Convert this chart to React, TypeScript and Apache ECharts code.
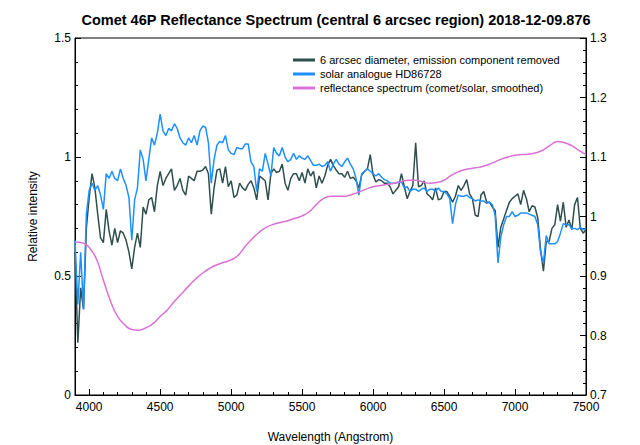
import React, { useEffect, useRef } from "react";
import * as echarts from "echarts";

// Wavelength grid for the two measured spectra (Angstrom)
const spectrumStart = 3900;
const spectrumStep = 20;

// Comet spectrum, 6 arcsec diameter, emission component removed (left axis)
const cometValues = [
  0.60, 0.22, 0.45, 0.36, 0.70, 0.83, 0.93, 0.87, 0.76, 0.66,
  0.64, 0.78, 0.69, 0.63, 0.70, 0.64, 0.69, 0.68, 0.65, 0.60,
  0.53, 0.62, 0.68, 0.62, 0.79, 0.76, 0.82, 0.83, 0.77, 0.88,
  0.94, 0.88, 0.91, 0.93, 0.95, 0.86, 0.88, 0.91, 0.86, 0.84,
  0.92, 0.91, 0.90, 0.94, 0.94,
  0.945, 0.96, 0.93, 0.76, 0.87, 0.945, 0.95, 0.89, 0.96, 0.875,
  0.90, 0.83, 0.84, 0.89, 0.87, 0.86, 0.885, 0.90, 0.87, 0.82,
  0.92, 0.91, 0.90, 0.82, 0.93, 0.95, 0.935, 0.94, 0.97, 0.89,
  0.86, 0.91, 0.93, 0.93, 0.90, 0.935, 0.89, 0.95, 0.92, 0.94,
  0.87, 0.92, 0.89, 0.92, 0.965,
  0.99, 0.965, 0.945, 0.93, 0.93, 0.915, 0.94, 0.91, 0.915, 0.90,
  0.87, 0.925, 0.94, 0.95, 1.01, 0.925, 0.895, 0.905, 0.90, 0.89,
  0.89, 0.875, 0.845, 0.86, 0.875, 0.93, 0.875, 0.825, 0.855, 0.88,
  1.06, 0.875, 0.88, 0.90, 0.845, 0.835, 0.82, 0.87, 0.82, 0.825,
  0.855, 0.855, 0.835, 0.81, 0.835, 0.88,
  0.86, 0.88, 0.905, 0.845, 0.825, 0.755, 0.75, 0.84, 0.855, 0.81,
  0.81, 0.79, 0.775, 0.62, 0.705, 0.74, 0.775, 0.81, 0.825, 0.835,
  0.845, 0.80, 0.86, 0.825, 0.77, 0.795, 0.79, 0.745, 0.61, 0.52,
  0.645, 0.645, 0.70, 0.715, 0.80, 0.73, 0.81, 0.705, 0.735, 0.695,
  0.80, 0.83, 0.70, 0.68, 0.695,
];

// Solar analogue HD86728 (left axis)
const solarValues = [
  0.65, 0.38, 0.60, 0.36, 0.76, 0.86, 0.89, 0.86, 0.88, 0.84,
  0.78, 0.93, 0.91, 0.94, 0.91, 0.90, 0.95, 0.91, 0.88, 0.83,
  0.65, 0.82, 0.87, 1.03, 0.99, 0.90, 0.99, 1.08, 1.05, 1.10,
  1.18, 1.11, 1.09, 1.12, 1.11, 1.14, 1.12, 1.08, 1.06, 1.05,
  1.08, 1.06, 1.09, 1.05, 1.11,
  1.13, 1.125, 1.06, 0.89, 0.99, 1.05, 1.065, 1.06, 1.09, 1.03,
  1.015, 1.01, 1.04, 1.035, 1.035, 1.055, 1.055, 0.98, 0.96, 0.855,
  0.95, 0.94, 1.015, 0.97, 0.92, 1.04, 1.015, 1.005, 1.04, 1.0,
  0.98, 0.99, 1.015, 0.99, 1.005, 0.995, 0.99, 1.005, 0.985, 0.965,
  0.965, 0.97, 0.96, 0.965, 0.98,
  0.94, 0.97, 0.99, 0.97, 0.96, 0.98, 0.995, 0.97, 0.95, 0.91,
  0.84, 0.93, 0.94, 0.95, 0.94, 0.93, 0.92, 0.93, 0.915, 0.905,
  0.90, 0.89, 0.89, 0.89, 0.895, 0.895, 0.87, 0.875, 0.855, 0.865,
  0.865, 0.855, 0.865, 0.87, 0.855, 0.865, 0.865, 0.855, 0.87, 0.855,
  0.855, 0.845, 0.825, 0.72, 0.80, 0.84,
  0.835, 0.835, 0.84, 0.83, 0.825, 0.815, 0.82, 0.815, 0.815, 0.805,
  0.81, 0.80, 0.755, 0.555, 0.665, 0.715, 0.75, 0.75, 0.77, 0.75,
  0.755, 0.765, 0.765, 0.765, 0.76, 0.755, 0.75, 0.715, 0.60, 0.555,
  0.67, 0.635, 0.635, 0.635, 0.645, 0.68, 0.72, 0.715, 0.715, 0.70,
  0.70, 0.695, 0.705, 0.695, 0.70,
];

// Reflectance spectrum (comet/solar, smoothed), right axis, every 50 Angstrom
const reflStart = 3900;
const reflStep = 50;
const reflValues = [
  0.957, 0.956, 0.948, 0.929, 0.893, 0.858, 0.832, 0.818, 0.810, 0.809,
  0.813, 0.820, 0.832, 0.843, 0.857, 0.870, 0.883, 0.895, 0.905, 0.913,
  0.919, 0.923, 0.927, 0.935, 0.950, 0.963, 0.974, 0.982, 0.987, 0.990,
  0.993, 0.997, 1.001, 1.008, 1.020, 1.030, 1.034, 1.034, 1.034, 1.037,
  1.041, 1.046, 1.050, 1.052, 1.054, 1.056, 1.059, 1.061, 1.061, 1.058,
  1.056, 1.057, 1.061, 1.069, 1.075, 1.079, 1.081, 1.083, 1.086, 1.091,
  1.096, 1.100, 1.103, 1.104, 1.105, 1.107, 1.112, 1.120, 1.126, 1.124,
  1.119, 1.111, 1.104,
];

const seriesNames = [
  "6 arcsec diameter, emission component removed",
  "solar analogue HD86728",
  "reflectance spectrum (comet/solar, smoothed)",
];
const titleText = "Comet 46P Reflectance Spectrum (central 6 arcsec region) 2018-12-09.876";
const xName = "Wavelength (Angstrom)";
const yName = "Relative intensity";

const FONT = "Liberation Sans";

export default function App() {
  const ref = useRef<HTMLDivElement>(null);
  useEffect(() => {
    if (!ref.current) return;
    const chart = echarts.init(ref.current, null, { renderer: "svg" });
    const comet = cometValues.map((v, i) => [spectrumStart + i * spectrumStep, v]);
    const solar = solarValues.map((v, i) => [spectrumStart + i * spectrumStep, v]);
    const refl = reflValues.map((v, i) => [reflStart + i * reflStep, v]);
    const axisLine = { show: true, lineStyle: { color: "#000", width: 1 } };
    const label = { color: "#000", fontSize: 12, fontFamily: FONT };
    chart.setOption({
      animation: false,
      backgroundColor: "#fff",
      title: {
        text: titleText,
        left: 331,
        top: 7,
        textAlign: "center",
        textStyle: { fontSize: 14.5, fontWeight: "bold", color: "#000", fontFamily: FONT },
      },
      legend: {
        data: seriesNames,
        orient: "vertical",
        left: 288,
        top: 49,
        icon: "rect",
        itemWidth: 22,
        itemHeight: 3,
        itemGap: 2,
        textStyle: { fontSize: 11, lineHeight: 12, color: "#000", fontFamily: FONT },
      },
      grid: {
        left: 75,
        right: 54,
        top: 38,
        bottom: 50,
        containLabel: false,
        outerBoundsMode: "none",
        show: true,
        borderColor: "#000",
        borderWidth: 1,
        backgroundColor: "transparent",
      },
      xAxis: [
        {
          type: "value",
          position: "bottom",
          min: 3900,
          max: 7500,
          interval: 100,
          axisLine,
          axisTick: { show: true, inside: true, length: 3, lineStyle: { color: "#000" } },
          axisLabel: { show: false },
          splitLine: { show: false },
        },
        {
          type: "value",
          position: "bottom",
          min: 3900,
          max: 7500,
          splitNumber: 7,
          minInterval: 500,
          maxInterval: 500,
          axisLine: { show: false },
          axisTick: { show: true, inside: true, length: 6, lineStyle: { color: "#000" } },
          axisLabel: {
            ...label,
            margin: 6,
            formatter: (v: number) => (v % 500 === 0 ? String(v) : ""),
          },
          splitLine: { show: false },
          name: xName,
          nameLocation: "middle",
          nameGap: 36,
          nameTextStyle: { ...label },
        },
      ],
      yAxis: [
        {
          type: "value",
          position: "left",
          min: 0,
          max: 1.5,
          interval: 0.5,
          axisLine,
          axisTick: { show: true, inside: true, length: 6, lineStyle: { color: "#000" } },
          minorTick: { show: true, splitNumber: 5, length: 3, lineStyle: { color: "#000" } },
          axisLabel: { ...label, margin: 4 },
          splitLine: { show: false },
          minorSplitLine: { show: false },
          name: yName,
          nameLocation: "middle",
          nameGap: 36,
          nameTextStyle: { ...label },
        },
        {
          type: "value",
          position: "right",
          min: 0.7,
          max: 1.3,
          interval: 0.1,
          axisLine,
          axisTick: { show: true, inside: true, length: 6, lineStyle: { color: "#000" } },
          minorTick: { show: true, splitNumber: 5, length: 3, lineStyle: { color: "#000" } },
          axisLabel: { ...label, margin: 4 },
          splitLine: { show: false },
          minorSplitLine: { show: false },
        },
      ],
      series: [
        {
          name: seriesNames[0],
          type: "line",
          xAxisIndex: 0,
          yAxisIndex: 0,
          data: comet,
          showSymbol: false,
          symbol: "none",
          color: "#2F4F4F",
          lineStyle: { color: "#2F4F4F", width: 1.5 },
        },
        {
          name: seriesNames[1],
          type: "line",
          xAxisIndex: 0,
          yAxisIndex: 0,
          data: solar,
          showSymbol: false,
          symbol: "none",
          color: "#1E90FF",
          lineStyle: { color: "#1E90FF", width: 1.5 },
        },
        {
          name: seriesNames[2],
          type: "line",
          xAxisIndex: 0,
          yAxisIndex: 1,
          data: refl,
          smooth: true,
          showSymbol: false,
          symbol: "none",
          color: "#DA70D6",
          lineStyle: { color: "#DA70D6", width: 1.5 },
        },
      ],
    });
    return () => chart.dispose();
  }, []);
  return (
    <div
      ref={ref}
      style={{ position: "absolute", left: 0, top: 0, width: 640, height: 445, background: "#fff" }}
    />
  );
}
